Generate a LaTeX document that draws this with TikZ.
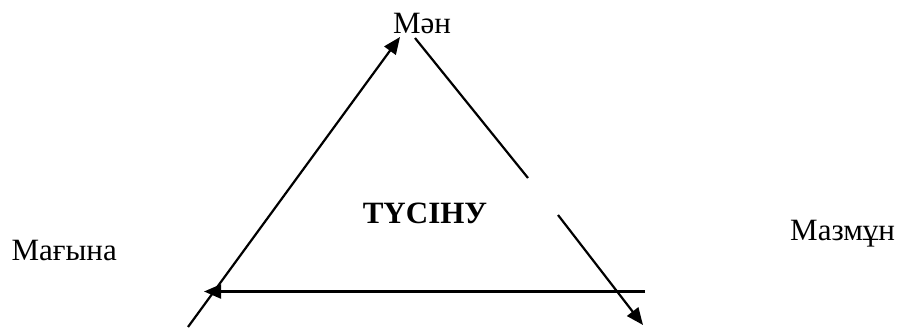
\documentclass[tikz,border=0pt]{standalone}
\usepackage{fontspec}
\setmainfont{Liberation Serif}
\usetikzlibrary{arrows.meta}

\tikzset{
  arr/.style={-{Triangle[length=17pt, width=14pt]}, line width=2.2pt},
  plain/.style={line width=2.2pt},
  lbl/.style={inner sep=0pt, font=\fontsize{31}{37}\selectfont},
}

\begin{document}
\begin{tikzpicture}[x=1pt, y=1pt]
    % Frame
    \useasboundingbox (0, 0) rectangle (897, 327);

    % Labels
    \node[lbl, anchor=base] (men) at (422, 293) {Мән};
    \node[lbl, anchor=base, font=\fontsize{31}{37}\selectfont\bfseries] (tusinu) at (425, 103) {ТҮСІНУ};
    \node[lbl, anchor=base east] (magyna) at (117, 67) {Мағына};
    \node[lbl, anchor=base west] (mazmun) at (790, 87) {Мазмұн};

    % Corners
    \coordinate (leftBot) at (188, 0);
    \coordinate (topTip) at (400, 290);
    \coordinate (rightTop) at (415, 289);
    \coordinate (gapA) at (528, 149);
    \coordinate (gapB) at (558, 112);
    \coordinate (rightTip) at (643, 2);
    \coordinate (baseRight) at (645, 35.5);
    \coordinate (baseTip) at (204, 35.5);

    % Left side
    \draw[arr] (leftBot) -- (topTip);

    % Right side, broken
    \draw[plain] (rightTop) -- (gapA);
    \draw[arr] (gapB) -- (rightTip);

    % Base
    \draw[arr] (baseRight) -- (baseTip);
\end{tikzpicture}
\end{document}
